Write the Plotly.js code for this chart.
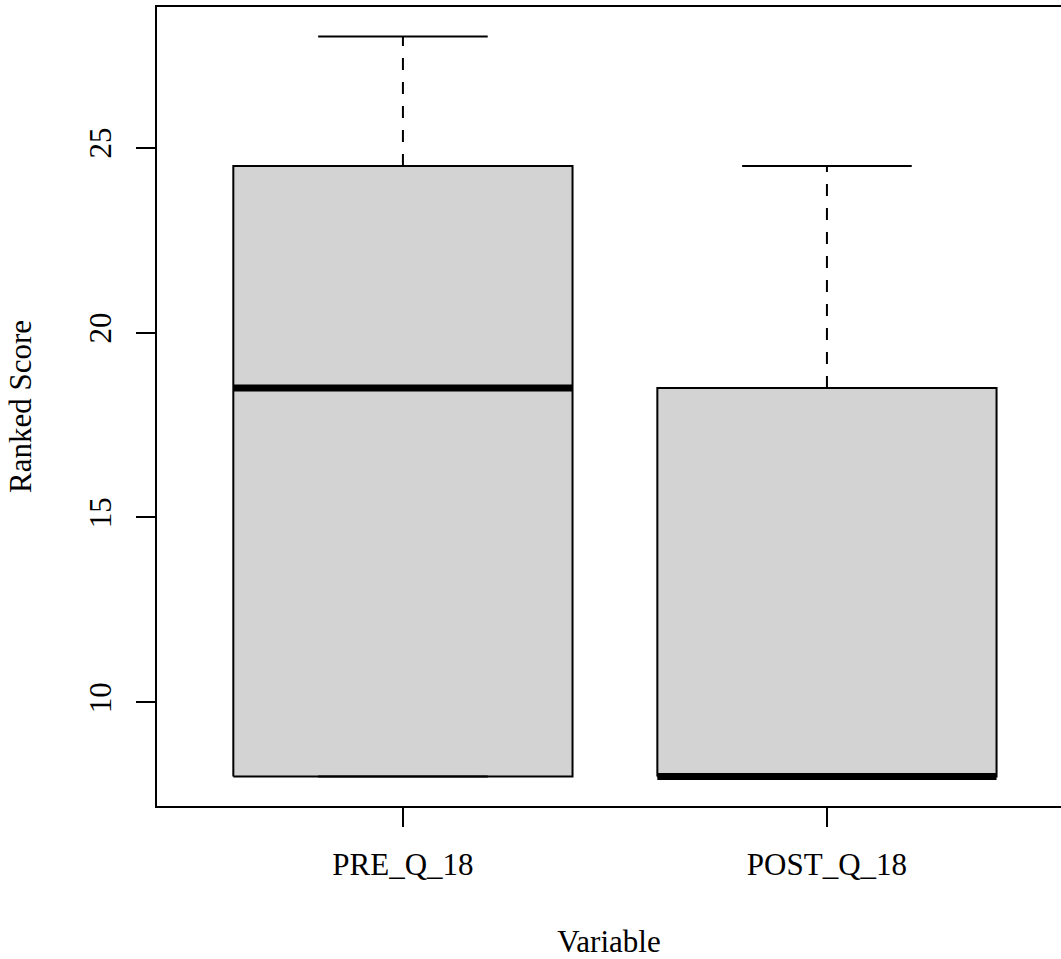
<!DOCTYPE html>
<html>
<head>
<meta charset="utf-8">
<script src="https://cdn.plot.ly/plotly-3.0.1.min.js"></script>
<style>
  html, body { margin: 0; padding: 0; background: #ffffff; overflow: hidden; }
  #chart { width: 1061px; height: 959px; }
</style>
</head>
<body>
<div id="chart"></div>
<script>
// ---- data ----
const categories = ["PRE_Q_18", "POST_Q_18"];
const whiskerLow = [8, 8];
const lowerQuartile = [8, 8];
const medians = [18.5, 8];
const upperQuartile = [24.5, 18.5];
const whiskerHigh = [28, 24.5];
const yTickValues = [10, 15, 20, 25];

// ---- style ----
const boxHalf = 0.4;
const capHalf = 0.2;
const fillColor = "#d3d3d3";
const ink = "#000000";
const fontFamily = "Liberation Serif, Times New Roman, serif";
const fontSize = 31;

const traces = [];
categories.forEach((cat, k) => {
  const c = k + 1;
  // box body
  traces.push({
    type: "scatter", mode: "lines",
    x: [c - boxHalf, c + boxHalf, c + boxHalf, c - boxHalf, c - boxHalf],
    y: [lowerQuartile[k], lowerQuartile[k], upperQuartile[k], upperQuartile[k], lowerQuartile[k]],
    fill: "toself", fillcolor: fillColor,
    line: { color: ink, width: 2 },
    hoverinfo: "skip", showlegend: false
  });
  // upper whisker (dashed)
  traces.push({
    type: "scatter", mode: "lines",
    x: [c, c], y: [upperQuartile[k], whiskerHigh[k]],
    line: { color: ink, width: 2, dash: "12px,12px" },
    hoverinfo: "skip", showlegend: false
  });
  // lower whisker (dashed)
  traces.push({
    type: "scatter", mode: "lines",
    x: [c, c], y: [lowerQuartile[k], whiskerLow[k]],
    line: { color: ink, width: 2, dash: "12px,12px" },
    hoverinfo: "skip", showlegend: false
  });
  // caps
  traces.push({
    type: "scatter", mode: "lines",
    x: [c - capHalf, c + capHalf, null, c - capHalf, c + capHalf],
    y: [whiskerHigh[k], whiskerHigh[k], null, whiskerLow[k], whiskerLow[k]],
    line: { color: ink, width: 2 },
    hoverinfo: "skip", showlegend: false
  });
  // median
  traces.push({
    type: "scatter", mode: "lines",
    x: [c - boxHalf, c + boxHalf], y: [medians[k], medians[k]],
    line: { color: ink, width: 7 },
    hoverinfo: "skip", showlegend: false
  });
});

const layout = {
  width: 1061, height: 959,
  paper_bgcolor: "#ffffff", plot_bgcolor: "#ffffff",
  margin: { l: 157, r: 0, t: 7, b: 153 },
  font: { family: fontFamily, size: fontSize, color: ink },
  showlegend: false,
  xaxis: {
    range: [0.42, 2.552],
    tickmode: "array",
    tickvals: categories.map((_, i) => i + 1),
    ticktext: categories,
    ticks: "outside", ticklen: 19, tickwidth: 2, tickcolor: ink,
    showline: true, linecolor: ink, linewidth: 2, mirror: true,
    showgrid: false, zeroline: false,
    tickfont: { family: fontFamily, size: fontSize, color: ink },
    ticklabelstandoff: 11,
    title: { text: "Variable", font: { family: fontFamily, size: fontSize, color: ink }, standoff: 49 },
    automargin: false
  },
  yaxis: {
    range: [7.2, 28.8],
    tickmode: "array",
    tickvals: yTickValues,
    ticktext: yTickValues.map(String),
    tickangle: -90,
    ticks: "outside", ticklen: 19, tickwidth: 2, tickcolor: ink,
    showline: true, linecolor: ink, linewidth: 2, mirror: false,
    showgrid: false, zeroline: false,
    tickfont: { family: fontFamily, size: fontSize, color: ink },
    ticklabelstandoff: 13,
    title: { text: "Ranked Score", font: { family: fontFamily, size: fontSize, color: ink }, standoff: 42 },
    automargin: false
  }
};

Plotly.newPlot("chart", traces, layout, { displayModeBar: false, staticPlot: true });
</script>
</body>
</html>
